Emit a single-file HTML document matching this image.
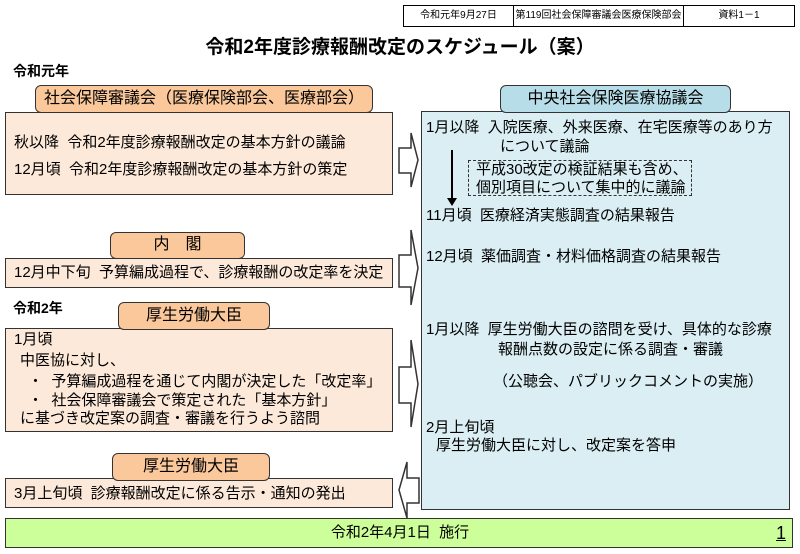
<!DOCTYPE html>
<html><head><meta charset="utf-8"><style>
body{margin:0;width:800px;height:554px;background:#fff;position:relative;overflow:hidden;font-family:"Liberation Sans","Noto Sans CJK JP",sans-serif;color:#000}
div{position:absolute;box-sizing:border-box}
.t{font-size:15px;white-space:nowrap;line-height:18px}
.hd{border:1.5px solid #333;border-radius:6px;text-align:center;font-size:16px}
.or{background:#fac89a}
.bx{border:1.5px solid #333;background:#fde9d9}
</style></head><body>
<div style="left:403px;top:5px;width:392px;height:22px;border:1px solid #000;font-size:10px;line-height:20px">
<div style="left:0;top:0;width:110px;height:20px;border-right:1px solid #000;text-align:center">令和元年9月27日</div>
<div style="left:110px;top:0;width:170px;height:20px;border-right:1px solid #000;text-align:center">第119回社会保障審議会医療保険部会</div>
<div style="left:280px;top:0;width:110px;height:20px;text-align:center">資料1－1</div>
</div>
<div style="left:0;top:36px;width:800px;text-align:center;font-size:19px;font-weight:bold;line-height:24px">令和2年度診療報酬改定のスケジュール（案）</div>
<div class="t" style="left:13px;top:62px;font-weight:bold;font-size:14px">令和元年</div>

<div class="bx" style="left:5px;top:112px;width:388px;height:83px"></div>
<div class="hd or" style="left:35px;top:85px;width:338px;height:28px;line-height:25px">社会保障審議会（医療保険部会、医療部会）</div>
<div class="t" style="left:14px;top:134px">秋以降&nbsp;&nbsp;令和2年度診療報酬改定の基本方針の議論</div>
<div class="t" style="left:14px;top:161px">12月頃&nbsp;&nbsp;令和2年度診療報酬改定の基本方針の策定</div>

<div class="bx" style="left:5px;top:258px;width:388px;height:30px"></div>
<div class="hd or" style="left:110px;top:232px;width:135px;height:27px;line-height:24px">内　閣</div>
<div class="t" style="left:14px;top:264px">12月中下旬&nbsp;&nbsp;予算編成過程で、診療報酬の改定率を決定</div>

<div class="t" style="left:13px;top:299px;font-weight:bold;font-size:14px">令和2年</div>
<div class="bx" style="left:5px;top:328px;width:388px;height:104px"></div>
<div class="hd or" style="left:118px;top:302px;width:152px;height:28px;line-height:25px">厚生労働大臣</div>
<div class="t" style="left:14px;top:331px">1月頃</div>
<div class="t" style="left:20px;top:352px">中医協に対し、</div>
<div class="t" style="left:28px;top:373px">・&nbsp;&nbsp;予算編成過程を通じて内閣が決定した「改定率」</div>
<div class="t" style="left:28px;top:392px">・&nbsp;&nbsp;社会保障審議会で策定された「基本方針」</div>
<div class="t" style="left:20px;top:410px">に基づき改定案の調査・審議を行うよう諮問</div>

<div class="bx" style="left:5px;top:478px;width:388px;height:30px"></div>
<div class="hd or" style="left:112px;top:453px;width:158px;height:28px;line-height:25px">厚生労働大臣</div>
<div class="t" style="left:14px;top:485px">3月上旬頃&nbsp;&nbsp;診療報酬改定に係る告示・通知の発出</div>

<div style="left:421px;top:111px;width:369px;height:399px;border:1.5px solid #333;background:#daeef3"></div>
<div class="hd" style="left:500px;top:85px;width:231px;height:28px;line-height:25px;background:#b7dee8">中央社会保険医療協議会</div>
<div class="t" style="left:426px;top:119px">1月以降&nbsp;&nbsp;入院医療、外来医療、在宅医療等のあり方</div>
<div class="t" style="left:500px;top:138px">について議論</div>
<div style="left:468px;top:160px;width:224px;height:36px;border:1px dashed #333"></div>
<div class="t" style="left:476px;top:161px">平成30改定の検証結果も含め、</div>
<div class="t" style="left:476px;top:179px">個別項目について集中的に議論</div>
<div style="left:451px;top:150px;width:1.5px;height:52px;background:#000"></div>
<div style="left:447px;top:198px;width:0;height:0;border-left:5px solid transparent;border-right:5px solid transparent;border-top:8px solid #000"></div>
<div class="t" style="left:426px;top:207px">11月頃&nbsp;&nbsp;医療経済実態調査の結果報告</div>
<div class="t" style="left:426px;top:248px">12月頃&nbsp;&nbsp;薬価調査・材料価格調査の結果報告</div>
<div class="t" style="left:426px;top:321px">1月以降&nbsp;&nbsp;厚生労働大臣の諮問を受け、具体的な診療</div>
<div class="t" style="left:498px;top:341px">報酬点数の設定に係る調査・審議</div>
<div class="t" style="left:493px;top:373px">（公聴会、パブリックコメントの実施）</div>
<div class="t" style="left:426px;top:419px">2月上旬頃</div>
<div class="t" style="left:436px;top:437px">厚生労働大臣に対し、改定案を答申</div>

<svg width="800" height="554" style="position:absolute;left:0;top:0" fill="#fff" stroke="#333" stroke-width="1.5">
<polygon points="399,148 411,148 411,133 418,160 411,187 411,173 399,173"/>
<polygon points="399,255 411,255 411,230 418,268 411,305 411,287 399,287"/>
<polygon points="399,367 411,367 411,340 418,384 411,427 411,403 399,403"/>
<polygon points="419,478 407,478 407,462 399,490 407,518 407,503 419,503"/>
</svg>

<div style="left:5px;top:518px;width:788px;height:30px;border:1.5px solid #333;background:#ccff99"></div>
<div class="t" style="left:0;top:524px;width:800px;text-align:center;font-size:15px">令和2年4月1日&nbsp;&nbsp;施行</div>
<div style="left:776px;top:522px;font-size:18px;line-height:22px;text-decoration:underline">1</div>
</body></html>
